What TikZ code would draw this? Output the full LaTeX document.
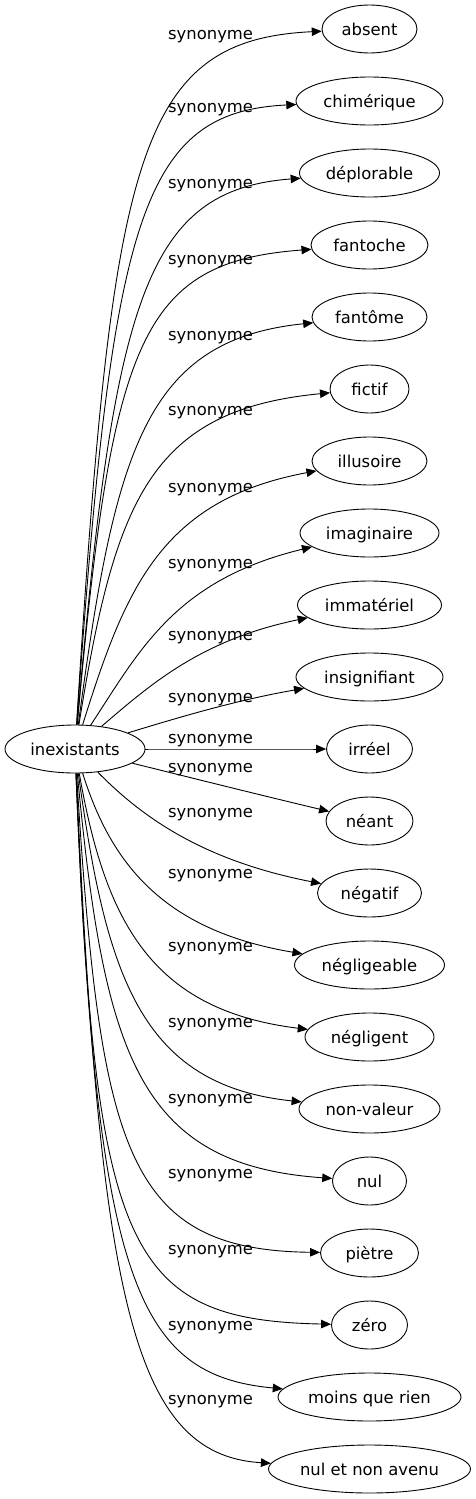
\documentclass[tikz,border=0pt]{standalone}
\usepackage{fontspec}
\setmainfont{DejaVu Sans}
\usetikzlibrary{arrows.meta,shapes.geometric}

\begin{document}
\begin{tikzpicture}[x=1pt,y=-1pt,
  every node/.style={font=\fontsize{16.4}{19}\selectfont},
  word/.style={draw,ellipse,line width=0.9pt,inner sep=0pt,minimum height=48pt,text height=12.5pt,text depth=0.5pt},
  syn/.style={anchor=base west,inner sep=0pt},
  edge/.style={-{Triangle[length=10pt,width=8.5pt]},line width=0.9pt}]
\useasboundingbox (0,0) rectangle (475,1499);
\node (inex) [word,minimum width=140pt] at (75,749) {inexistants};
\foreach \w/\wid [count=\i from 0] in {absent/95,chimérique/147,déplorable/140,fantoche/117,fantôme/115,fictif/79,illusoire/115,imaginaire/139,immatériel/144,insignifiant/147,irréel/86,néant/87,négatif/104,négligeable/150,négligent/129,non-valeur/141,nul/74,piètre/98,zéro/76,moins que rien/183,nul et non avenu/202}
  \node (w\i) [word,minimum width=\wid pt] at (369.5,{29+72*\i}) {\w};
% edges: target / first control / second control / label baseline
\foreach \i/\ax/\ay/\bx/\by/\ly in {0/112/160/135/40/39,1/112/220/140/112/112,2/114/300/145/190/188,3/112/340/140/262/264,4/115/450/145/340/340,5/115/500/150/410/415,6/125/590/160/500/492,7/140/650/175/580/568,8/150/685/200/640/640,9/180/717/237/700/702,10/200/749/260/749/743,11/180/775/260/795/772,12/140/815/200/860/817,13/110/860/160/930/878,14/105/920/150/1010/951,15/106/975/140/1085/1027,16/104/1055/138/1165/1103,17/100/1150/125/1250/1178,18/95/1250/125/1320/1254,19/96/1280/135/1375/1330,20/100/1290/130/1455/1404}{
  \draw[edge] (inex) .. controls (\ax,\ay) and (\bx,\by) .. (w\i);
  \node (s\i) [syn] at (168,\ly) {synonyme};
}
\end{tikzpicture}
\end{document}
